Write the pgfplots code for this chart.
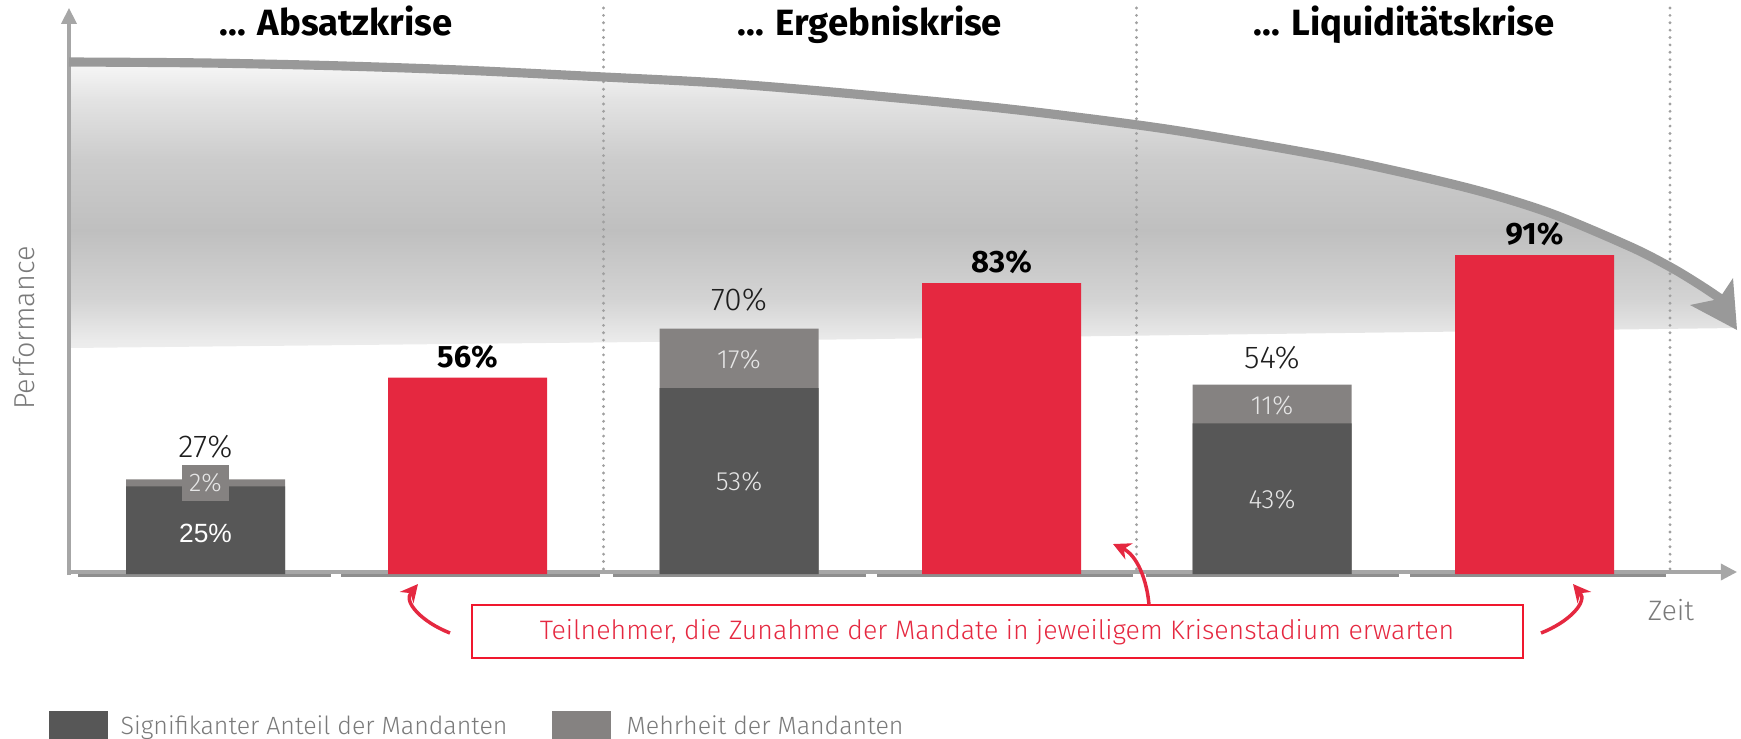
\documentclass[border=0pt]{standalone}
\usepackage{pgfplots}
\pgfplotsset{compat=1.18}
\usetikzlibrary{arrows.meta}
\usepackage{fontspec}
\setmainfont{Fira Sans}
\newfontfamily\lightfont{Fira Sans Light}
\newfontfamily\boldfont{Fira Sans Bold}
\newfontfamily\arialfont{Liberation Sans}
\definecolor{cdark}{HTML}{575757}
\definecolor{cmid}{HTML}{858281}
\definecolor{cred}{HTML}{E52840}
\definecolor{cbox}{HTML}{F0182E}
\definecolor{ccurve}{HTML}{999999}
\definecolor{caxis}{HTML}{A6A6A6}
\definecolor{cseg}{HTML}{8E8E8E}
\definecolor{cdot}{HTML}{A0A0A0}
\definecolor{ctext}{HTML}{1E1E1E}
\definecolor{cgraytext}{HTML}{7A7A7A}
\definecolor{cinner}{HTML}{E6E6E6}
\pgfdeclareverticalshading{perfshade}{100bp}{color(0bp)=(white!93!black); color(25bp)=(white!93!black); color(26.4bp)=(white!92!black); color(33.4bp)=(white!83!black); color(45.6bp)=(white!75!black); color(57.9bp)=(white!80!black); color(68.4bp)=(white!89!black); color(75bp)=(white!97!black); color(100bp)=(white!97!black)}
\pgfplotsset{
  base/.style={at={(0,0)}, anchor=south west, scale only axis, width=17.41cm, height=7.38cm, hide axis, clip=false},
  px/.style={base, xmin=0, xmax=1741, ymin=0, ymax=738, y dir=reverse},
}
\newcommand{\fs}[1]{\fontsize{#1}{#1}\selectfont}
\begin{document}
\begin{tikzpicture}
% ---------- background layer (pixel coordinates) ----------
\begin{axis}[px]
\addplot[draw=none, shade, shading=perfshade] coordinates {(69,62) (200,62.9) (330,65.6) (460,70) (604,77) (720,83) (832,92) (1000,108) (1138,125) (1222,138) (1345,160) (1468,188) (1550,213) (1631,247) (1672,268) (1721,299) (1736,328) (640,342) (69,348)};
% dotted separators
\addplot[cdot, line width=0.9pt, dash pattern=on 0pt off 2.1pt, line cap=round] coordinates {(603.5,8) (603.5,572)};
\addplot[cdot, line width=0.9pt, dash pattern=on 0pt off 2.1pt, line cap=round] coordinates {(1136.5,8) (1136.5,572)};
\addplot[cdot, line width=0.9pt, dash pattern=on 0pt off 2.1pt, line cap=round] coordinates {(1670,8) (1670,572)};
% axes
\addplot[caxis, line width=0.9pt, -{Triangle[length=4.5pt,width=4.3pt]}] coordinates {(69,575) (69,8)};
\addplot[caxis, line width=0.9pt, -{Triangle[length=4.6pt,width=4.6pt]}] coordinates {(67,572) (1737,572)};
\addplot[cseg, line width=0.6pt, unbounded coords=jump] coordinates {(78,575.5) (331,575.5) (335,nan) (341,575.5) (600,575.5) (606,nan) (613,575.5) (866,575.5) (870,nan) (877,575.5) (1133,575.5) (1140,nan) (1146,575.5) (1399,575.5) (1404,nan) (1410,575.5) (1666,575.5)};
% performance curve
\addplot[ccurve, line width=2.6pt, smooth] coordinates {(69,62) (200,62.9) (330,65.6) (460,70) (604,77) (720,83) (832,92) (1000,108) (1138,125) (1222,138) (1345,160) (1468,188) (1550,213) (1631,247) (1672,268) (1700,285) (1721,299)};
\fill[ccurve] (1737,330) -- (1733,278) -- (1719,299) -- (1690,305) -- cycle;
\end{axis}
% ---------- bars (percent) ----------
\begin{axis}[base, xmin=0, xmax=1741, ymin=-46.79, ymax=163.77, ybar, bar width=159, bar shift=0pt]
\addplot[fill=cmid, draw=none] coordinates {(205.5,27) (739,70) (1272,54)};
\addplot[fill=cdark, draw=none] coordinates {(205.5,25) (739,53) (1272,43)};
\addplot[fill=cred, draw=none] coordinates {(467.5,56) (1001.5,83) (1534.5,91)};
\end{axis}
% ---------- foreground text (pixel coordinates) ----------
\begin{axis}[px]
% titles
\node[font=\boldfont\fs{10.4pt}, anchor=base, inner sep=0] at (336,35.5) {... Absatzkrise};
\node[font=\boldfont\fs{10.4pt}, anchor=base, inner sep=0] at (870,35.5) {... Ergebniskrise};
\node[font=\boldfont\fs{10.4pt}, anchor=base, inner sep=0] at (1404,35.5) {... Liquiditätskrise};
% 2% box
\fill[cmid] (182,465) rectangle (229,501);
\node[font=\lightfont\fs{7.3pt}, text=cinner, inner sep=0] at (205.5,483) {2\%};
\node[font=\arialfont\fs{7.5pt}, text=white, inner sep=0] at (205.5,533) {25\%};
\node[font=\lightfont\fs{7.5pt}, text=cinner, inner sep=0] at (739,482) {53\%};
\node[font=\lightfont\fs{7.5pt}, text=cinner, inner sep=0] at (739,360) {17\%};
\node[font=\lightfont\fs{7.5pt}, text=cinner, inner sep=0] at (1272,500) {43\%};
\node[font=\lightfont\fs{7.5pt}, text=cinner, inner sep=0] at (1272,406) {11\%};
% totals
\node[font=\lightfont\fs{9pt}, text=ctext, inner sep=0] at (205.5,447) {27\%};
\node[font=\lightfont\fs{9pt}, text=ctext, inner sep=0] at (739,300) {70\%};
\node[font=\lightfont\fs{9pt}, text=ctext, inner sep=0] at (1272,358) {54\%};
\node[font=\boldfont\fs{8.8pt}, text=black, inner sep=0] at (467.5,357) {56\%};
\node[font=\boldfont\fs{8.8pt}, text=black, inner sep=0] at (1001.5,262) {83\%};
\node[font=\boldfont\fs{8.8pt}, text=black, inner sep=0] at (1534.5,234) {91\%};
% axis titles
\node[font=\lightfont\fs{8.2pt}, text=cgraytext, rotate=90, inner sep=0] at (24,328) {Performance};
\node[font=\lightfont\fs{8pt}, text=cgraytext, inner sep=0] at (1671,610) {Zeit};
% red callout
\draw[cbox, line width=0.6pt] (472,605) rectangle (1523,658);
\node[font=\lightfont\fs{7.6pt}, text=cred, inner sep=0] at (997,632) {Teilnehmer, die Zunahme der Mandate in jeweiligem Krisenstadium erwarten};
\draw[cred, line width=1pt, -{Stealth[length=5pt,width=5pt]}] (450,633) .. controls (422,622) and (403,602) .. (418,584);
\draw[cred, line width=1pt, -{Stealth[length=5pt,width=5pt]}] (1149,605) .. controls (1147,580) and (1137,555) .. (1113,544);
\draw[cred, line width=1pt, -{Stealth[length=5pt,width=5pt]}] (1541,633) .. controls (1569,622) and (1588,602) .. (1573,584);
% legend
\fill[cdark] (49,711) rectangle (108,745);
\node[font=\lightfont\fs{7.1pt}, text=cgraytext, anchor=base west, inner sep=0] at (120,734) {Signifikanter Anteil der Mandanten};
\fill[cmid] (552,711) rectangle (611,745);
\node[font=\lightfont\fs{7.1pt}, text=cgraytext, anchor=base west, inner sep=0] at (626,734) {Mehrheit der Mandanten};
\end{axis}
\pgfresetboundingbox
\path[use as bounding box] (0,0) rectangle (17.41cm,7.38cm);
\end{tikzpicture}
\end{document}
